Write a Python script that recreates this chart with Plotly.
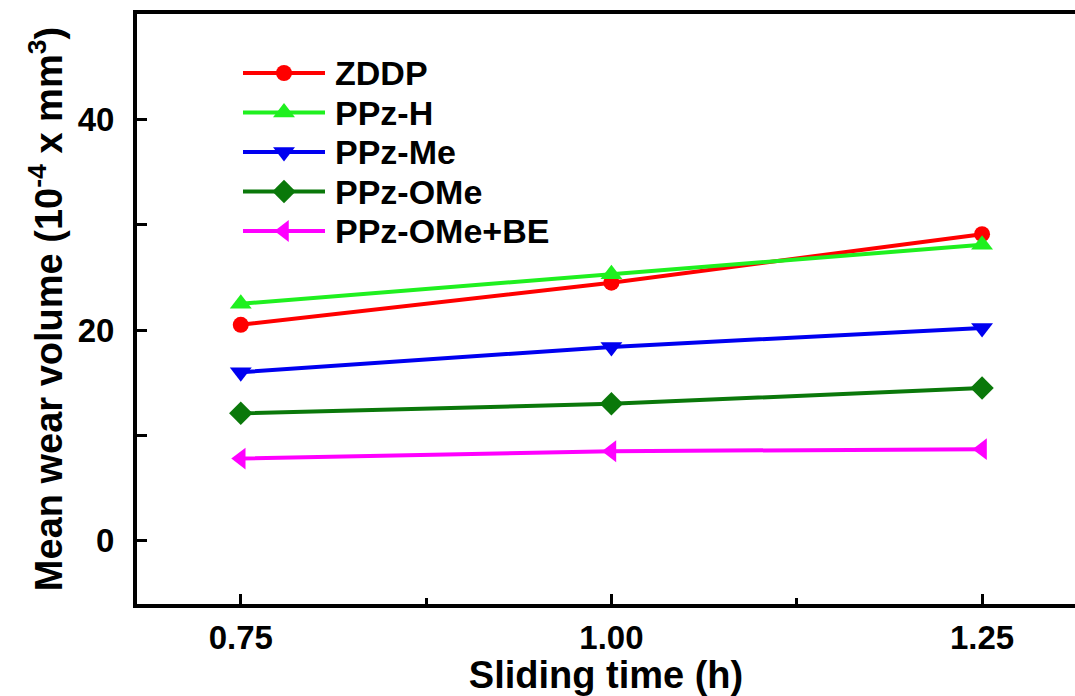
import plotly.graph_objects as go

# Sliding time (h) and mean wear volume (10^-4 mm^3) for each lubricant additive
sliding_time = [0.75, 1.00, 1.25]
zddp = [20.5, 24.5, 29.1]
ppz_h = [22.5, 25.3, 28.1]
ppz_me = [16.0, 18.4, 20.2]
ppz_ome = [12.1, 13.0, 14.5]
ppz_ome_be = [7.8, 8.5, 8.7]

series_names = ["ZDDP", "PPz-H", "PPz-Me", "PPz-OMe", "PPz-OMe+BE"]
series_values = [zddp, ppz_h, ppz_me, ppz_ome, ppz_ome_be]

x_ticks = [0.75, 1.00, 1.25]
x_tick_labels = ["0.75", "1.00", "1.25"]
y_ticks = [0, 20, 40]
y_tick_labels = ["0", "20", "40"]

colors = ["#ff0000", "#1ff01f", "#0000f0", "#0a780a", "#ff00ff"]
symbols = ["circle", "triangle-up", "triangle-down", "diamond", "triangle-left"]
sizes = [16, 19, 19, 18, 19]

FONT = "Liberation Sans, Arial, sans-serif"
W, H = 1075, 696
L, R, T, B = 137, 0, 14, 92

fig = go.Figure()

for name, vals, c, s, sz in zip(series_names, series_values, colors, symbols, sizes):
    fig.add_trace(go.Scatter(
        x=sliding_time, y=vals, name=name, mode="lines+markers",
        line=dict(color=c, width=4),
        marker=dict(symbol=s, size=sz, color=c),
        showlegend=False,
    ))

# Legend drawn on an overlay axis measured in page pixels
row0, row_gap = 73, 39.5
line_x0, line_x1, text_x = 243, 325, 333
for i, (name, c, s, sz) in enumerate(zip(series_names, colors, symbols, sizes)):
    yr = row0 + i * row_gap
    fig.add_trace(go.Scatter(
        x=[line_x0, (line_x0 + line_x1) / 2, line_x1], y=[yr, yr, yr],
        mode="lines", line=dict(color=c, width=4),
        xaxis="x2", yaxis="y2", showlegend=False, hoverinfo="skip",
    ))
    fig.add_trace(go.Scatter(
        x=[(line_x0 + line_x1) / 2], y=[yr], mode="markers",
        marker=dict(symbol=s, size=sz, color=c),
        xaxis="x2", yaxis="y2", showlegend=False, hoverinfo="skip",
    ))
    fig.add_annotation(
        x=text_x, y=yr, xref="x2", yref="y2", text=name,
        showarrow=False, xanchor="left", yanchor="middle",
        font=dict(family=FONT, size=34, color="black", weight="bold"),
    )

axis_font = dict(family=FONT, size=33, color="black", weight="bold")
title_font = dict(family=FONT, size=38, color="black", weight="bold")

fig.update_layout(
    width=W, height=H,
    margin=dict(l=L, r=R, t=T, b=B),
    paper_bgcolor="white", plot_bgcolor="white",
    xaxis=dict(
        range=[0.68, 1.3127], tickvals=x_ticks, ticktext=x_tick_labels,
        ticks="inside", ticklen=10, tickwidth=3, tickcolor="black",
        minor=dict(tickvals=[0.875, 1.125], ticks="inside", ticklen=6,
                   tickwidth=3, tickcolor="black"),
        showline=True, linewidth=4, linecolor="black", mirror=True,
        showgrid=False, zeroline=False, tickfont=axis_font,
        ticklabelstandoff=1,
        title=dict(text="Sliding time (h)", font=title_font, standoff=0),
    ),
    yaxis=dict(
        range=[-6, 50], tickvals=y_ticks, ticktext=y_tick_labels,
        ticks="inside", ticklen=10, tickwidth=3, tickcolor="black",
        minor=dict(tickvals=[10, 30], ticks="inside", ticklen=10,
                   tickwidth=3, tickcolor="black"),
        showline=True, linewidth=4, linecolor="black",
        showgrid=False, zeroline=False, tickfont=axis_font,
        ticklabelstandoff=12,
        title=dict(text="Mean wear volume (10<sup>-4</sup> x mm<sup>3</sup>)",
                   font=title_font, standoff=4),
    ),
    xaxis2=dict(range=[L, W], overlaying="x", visible=False, fixedrange=True),
    yaxis2=dict(range=[H - B, T], overlaying="y", visible=False, fixedrange=True),
)

fig.write_html("out.html")
